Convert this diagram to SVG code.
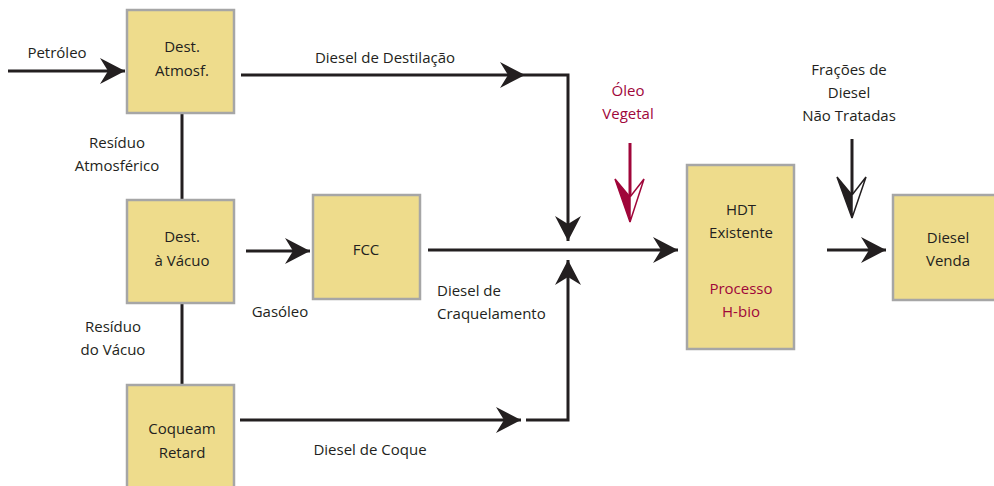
<svg xmlns="http://www.w3.org/2000/svg" width="994" height="486" viewBox="0 0 994 486">
<style>
.box{fill:#EEDC8C;stroke:#A6A6A6;stroke-width:2.5}
.ln{fill:none;stroke:#231F20;stroke-width:3}
text{font-family:"Open Sans","Liberation Sans",sans-serif;font-size:15px;fill:#231F20;text-anchor:middle}
.red{fill:#A0063A}
.st{text-anchor:start}
</style>
<defs>
<marker id="ah" markerUnits="userSpaceOnUse" markerWidth="30" markerHeight="30" viewBox="-26 -15 28 30" refX="0" refY="0" orient="auto">
<path d="M0,0 L-25,-13 L-17,0 L-25,13 Z" fill="#231F20"/>
</marker>
</defs>
<g id="connectors">
<path class="ln" d="M8,71 H125" marker-end="url(#ah)"/>
<path class="ln" d="M241,75 H525" marker-end="url(#ah)"/>
<path class="ln" d="M525,75 H568 V241" marker-end="url(#ah)"/>
<path class="ln" d="M428,250 H678" marker-end="url(#ah)"/>
<path class="ln" d="M246,251 H310" marker-end="url(#ah)"/>
<path class="ln" d="M240,420 H521" marker-end="url(#ah)"/>
<path class="ln" d="M526,420 H568 V260" marker-end="url(#ah)"/>
<path class="ln" d="M182,113 V200"/>
<path class="ln" d="M182,303 V384"/>
<path class="ln" d="M827,250 H886" marker-end="url(#ah)"/>
<g id="oleo-arrow">
<path d="M630,143 V200" fill="none" stroke="#A0063A" stroke-width="3"/>
<path d="M630,222 L615,179 L630,197 Z" fill="#A0063A" stroke="#A0063A" stroke-width="1.5" stroke-linejoin="miter"/>
<path d="M630,222 L644,179 L630,197 Z" fill="#fff" stroke="#A0063A" stroke-width="1.5"/>
</g>
<g id="fracoes-arrow">
<path d="M852,139 V196" fill="none" stroke="#231F20" stroke-width="3"/>
<path d="M852,218 L837,177 L852,195 Z" fill="#231F20" stroke="#231F20" stroke-width="1.5"/>
<path d="M852,218 L866,177 L852,195 Z" fill="#fff" stroke="#231F20" stroke-width="1.5"/>
</g>
</g>
<g id="dest-atmosf">
<rect class="box" x="127" y="10" width="107" height="103"/>
<text x="182" y="52">Dest.</text>
<text x="182" y="76">Atmosf.</text>
</g>
<g id="dest-vacuo">
<rect class="box" x="127" y="200" width="107" height="103"/>
<text x="182" y="242">Dest.</text>
<text x="182" y="266">à Vácuo</text>
</g>
<g id="coqueam">
<rect class="box" x="127" y="385" width="107" height="105"/>
<text x="182" y="434">Coqueam</text>
<text x="182" y="458">Retard</text>
</g>
<g id="fcc">
<rect class="box" x="313" y="195" width="107" height="104"/>
<text x="366" y="255">FCC</text>
</g>
<g id="hdt">
<rect class="box" x="687" y="165" width="107" height="184"/>
<text x="741" y="215">HDT</text>
<text x="741" y="238">Existente</text>
<text class="red" x="741" y="294">Processo</text>
<text class="red" x="741" y="317">H-bio</text>
</g>
<g id="diesel-venda">
<rect class="box" x="893" y="195" width="110" height="105"/>
<text x="948" y="243">Diesel</text>
<text x="948" y="266">Venda</text>
</g>
<g id="labels">
<text x="57" y="58">Petróleo</text>
<text x="385" y="63">Diesel de Destilação</text>
<text x="117" y="148">Resíduo</text>
<text x="117" y="171">Atmosférico</text>
<text x="280" y="317">Gasóleo</text>
<text class="st" x="437" y="296">Diesel de</text>
<text class="st" x="437" y="319">Craquelamento</text>
<text x="113" y="332">Resíduo</text>
<text x="113" y="355">do Vácuo</text>
<text x="370" y="455">Diesel de Coque</text>
<text class="red" x="628" y="96">Óleo</text>
<text class="red" x="628" y="119">Vegetal</text>
<text x="849" y="75">Frações de</text>
<text x="849" y="98">Diesel</text>
<text x="849" y="121">Não Tratadas</text>
</g>
</svg>
